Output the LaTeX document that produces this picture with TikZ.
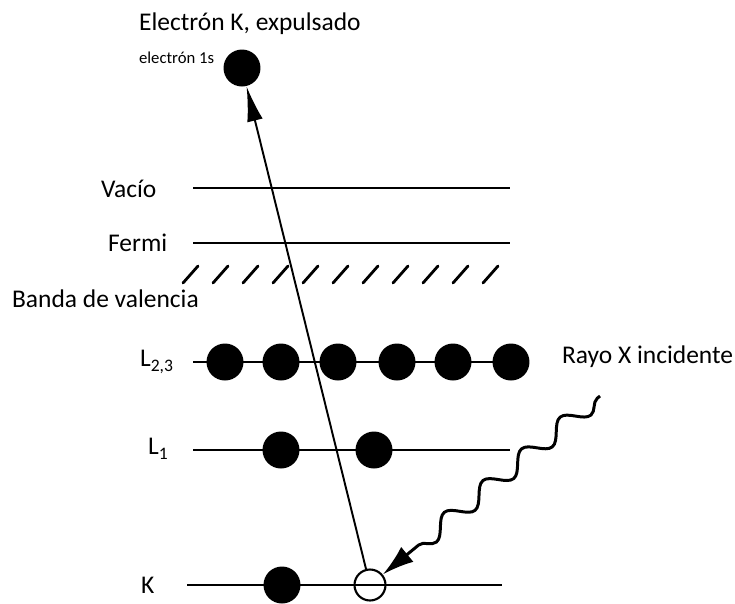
\documentclass[tikz,border=0pt]{standalone}
\usepackage{fontspec}
\setmainfont{Carlito}
\usetikzlibrary{arrows.meta,positioning,decorations.pathmorphing}

\begin{document}
\begin{tikzpicture}[x=0.02cm, y=-0.02cm,
    level/.style={line width=1.5pt},
    electron/.style={circle, fill=black, minimum size=0.74cm, inner sep=0pt},
    hole/.style={circle, draw=black, line width=1.2pt, minimum size=0.62cm, inner sep=0pt},
    lbl/.style={font=\fontsize{14.5}{16}\selectfont, inner sep=1pt},
    hatch/.style={line width=1.6pt, line cap=round}]
  \useasboundingbox (0,0) rectangle (735,603);

  % titles
  \node[lbl, anchor=west] (title) at (137,24) {Electrón K, expulsado};
  \node[font=\fontsize{9.5}{11}\selectfont, anchor=west, inner sep=1pt] (sub) at (137,58) {electrón 1s};
  \node[electron] (eject) at (242,68) {};

  % energy levels
  \draw[level] (193,188) -- (510,188);
  \node[lbl, anchor=west] (vac) at (99,189) {Vacío};
  \draw[level] (193,243) -- (510,243);
  \node[lbl, anchor=west] (fermi) at (106,243) {Fermi};
  \foreach \x in {183,213,...,483}
    \draw[hatch] (\x,283) -- (\x+15,266);
  \node[lbl, anchor=west] (band) at (10,299) {Banda de valencia};

  % L2,3
  \draw[level] (193,362) -- (512,362);
  \node[lbl, anchor=west] (l23) at (138,362) {L\raisebox{-0.45ex}{\fontsize{10}{11}\selectfont 2,3}};
  \foreach \x [count=\i] in {225,281,338,397,453,511}
    \node[electron] (a\i) at (\x,362) {};

  % L1
  \draw[level] (193,450) -- (510,450);
  \node[lbl, anchor=west] (l1) at (146,449) {L\raisebox{-0.45ex}{\fontsize{10}{11}\selectfont 1}};
  \node[electron] (b1) at (281,450) {};
  \node[electron] (b2) at (374,450) {};

  % K
  \draw[level] (187,585) -- (502,585);
  \node[lbl, anchor=west] (k) at (139,585) {K};
  \node[electron] (c1) at (282,585) {};
  \node[hole] (kh) at (370,585) {};

  % ejection and incident x-ray
  \draw[line width=1.1pt, -{Latex[length=20pt,width=9pt]}] (kh) -- (eject);
  \node[lbl, anchor=west] (xray) at (560,357) {Rayo X incidente};
  \coordinate (xsrc) at (600,396);
  \draw[line width=1.7pt, -{Latex[length=18pt,width=11pt]},
    decorate, decoration={snake, amplitude=0.18cm, segment length=1.0cm, pre length=2pt, post length=0.7cm}]
    (xsrc) -- (kh);
\end{tikzpicture}
\end{document}
